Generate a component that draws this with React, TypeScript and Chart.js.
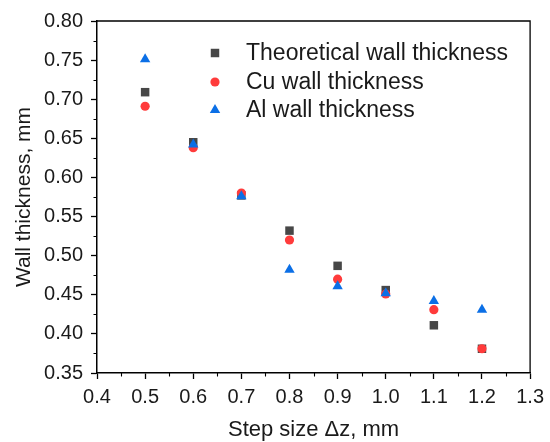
import React, { useEffect, useRef } from "react";
import { Chart, registerables } from "chart.js";
import { drawPoint } from "chart.js/helpers";

Chart.register(...registerables);

// ---- Data ----
const stepSizes = [0.5, 0.6, 0.7, 0.8, 0.9, 1.0, 1.1, 1.2];
const theoreticalThickness = [0.709, 0.645, 0.577, 0.532, 0.487, 0.456, 0.411, 0.381];
const cuThickness = [0.691, 0.638, 0.58, 0.52, 0.47, 0.451, 0.431, 0.381];
const alThickness = [0.751, 0.642, 0.576, 0.482, 0.461, 0.452, 0.442, 0.431];
const seriesLabels = ["Theoretical wall thickness", "Cu wall thickness", "Al wall thickness"];
const xAxisTitle = "Step size \u0394z, mm";
const yAxisTitle = "Wall thickness, mm";
const xRange = [0.4, 1.3];
const yRange = [0.35, 0.8];

const FONT = "'Liberation Sans', Arial, Helvetica, sans-serif";
const TEXT = "#1a1a1a";

const colors = ["#474747", "#ff3b3b", "#0b6fe6"];
const styles = ["rect", "circle", "triangle"];
const radii = [6, 4.6, 6];

const framePlugin = {
  id: "frameAndMinor",
  afterDraw(chart: any) {
    const { ctx, chartArea, scales } = chart;
    const x = scales.x;
    const y = scales.y;
    ctx.save();
    ctx.strokeStyle = "#000";
    ctx.lineWidth = 1.3;
    ctx.beginPath();
    ctx.moveTo(chartArea.left, chartArea.top);
    ctx.lineTo(chartArea.right, chartArea.top);
    ctx.lineTo(chartArea.right, chartArea.bottom);
    ctx.stroke();
    // minor ticks
    ctx.lineWidth = 1.1;
    ctx.beginPath();
    for (let i = 0; i < 9; i++) {
      const v = xRange[0] + 0.05 + i * 0.1;
      const px = Math.round(x.getPixelForValue(v)) + 0.5;
      ctx.moveTo(px, chartArea.bottom);
      ctx.lineTo(px, chartArea.bottom + 3.5);
    }
    for (let i = 0; i < 9; i++) {
      const v = yRange[0] + 0.025 + i * 0.05;
      const py = Math.round(y.getPixelForValue(v)) + 0.5;
      ctx.moveTo(chartArea.left, py);
      ctx.lineTo(chartArea.left - 3.5, py);
    }
    ctx.stroke();

    // legend
    const lx = chartArea.left + 118;
    const tx = chartArea.left + 149;
    const rows = [chartArea.top + 32, chartArea.top + 61, chartArea.top + 89];
    ctx.font = `23px ${FONT}`;
    ctx.textBaseline = "middle";
    ctx.textAlign = "left";
    chart.data.datasets.forEach((ds: any, i: number) => {
      ctx.fillStyle = ds.backgroundColor;
      ctx.strokeStyle = ds.borderColor;
      ctx.lineWidth = 0;
      drawPoint(ctx, { pointStyle: ds.pointStyle, radius: ds.pointRadius, rotation: 0, borderWidth: 0 }, lx, rows[i]);
      ctx.fillStyle = TEXT;
      ctx.fillText(ds.label, tx, rows[i] + 1);
    });
    ctx.restore();
  },
};

export default function App() {
  const ref = useRef<HTMLCanvasElement | null>(null);

  useEffect(() => {
    document.body.style.margin = "0";
    if (!ref.current) return;
    const seriesValues = [theoreticalThickness, cuThickness, alThickness];
    const chart = new Chart(ref.current, {
      type: "scatter",
      data: {
        datasets: seriesValues.map((vals, i) => ({
          label: seriesLabels[i],
          data: stepSizes.map((s, j) => ({ x: s, y: vals[j] })),
          backgroundColor: colors[i],
          borderColor: colors[i],
          borderWidth: 0,
          pointStyle: styles[i] as any,
          pointRadius: radii[i],
          pointHoverRadius: radii[i],
          order: 3 - i,
        })),
      },
      options: {
        animation: false,
        responsive: true,
        maintainAspectRatio: false,
        layout: { padding: { top: 21, right: 16, left: 0, bottom: 0 } },
        plugins: { legend: { display: false }, tooltip: { enabled: false } },
        scales: {
          x: {
            type: "linear",
            min: xRange[0],
            max: xRange[1],
            afterFit: (s: any) => {
              s.height = 69;
            },
            ticks: {
              stepSize: 0.1,
              color: TEXT,
              font: { family: FONT, size: 20 },
              padding: 6,
              callback: (v: any) => Number(v).toFixed(1),
            },
            grid: { drawOnChartArea: false, drawTicks: true, tickLength: 6, tickColor: "#000", tickWidth: 1.3 },
            border: { display: true, color: "#000", width: 1.5 },
            title: {
              display: true,
              text: xAxisTitle,
              color: TEXT,
              font: { family: FONT, size: 22, lineHeight: 1 },
              padding: { top: 0, bottom: 1 },
            },
          },
          y: {
            type: "linear",
            min: yRange[0],
            max: yRange[1],
            afterFit: (s: any) => {
              s.width = 97;
            },
            ticks: {
              stepSize: 0.05,
              color: TEXT,
              font: { family: FONT, size: 20 },
              padding: 8,
              callback: (v: any) => Number(v).toFixed(2),
            },
            grid: { drawOnChartArea: false, drawTicks: true, tickLength: 6, tickColor: "#000", tickWidth: 1.3 },
            border: { display: true, color: "#000", width: 1.5 },
            title: {
              display: true,
              text: yAxisTitle,
              color: TEXT,
              font: { family: FONT, size: 21, lineHeight: 1.2 },
              padding: { top: 12, bottom: 0 },
            },
          },
        },
      },
      plugins: [framePlugin],
    });
    return () => chart.destroy();
  }, []);

  return (
    <div style={{ width: 550, height: 442, position: "relative", background: "#fff" }}>
      <canvas ref={ref} />
    </div>
  );
}
